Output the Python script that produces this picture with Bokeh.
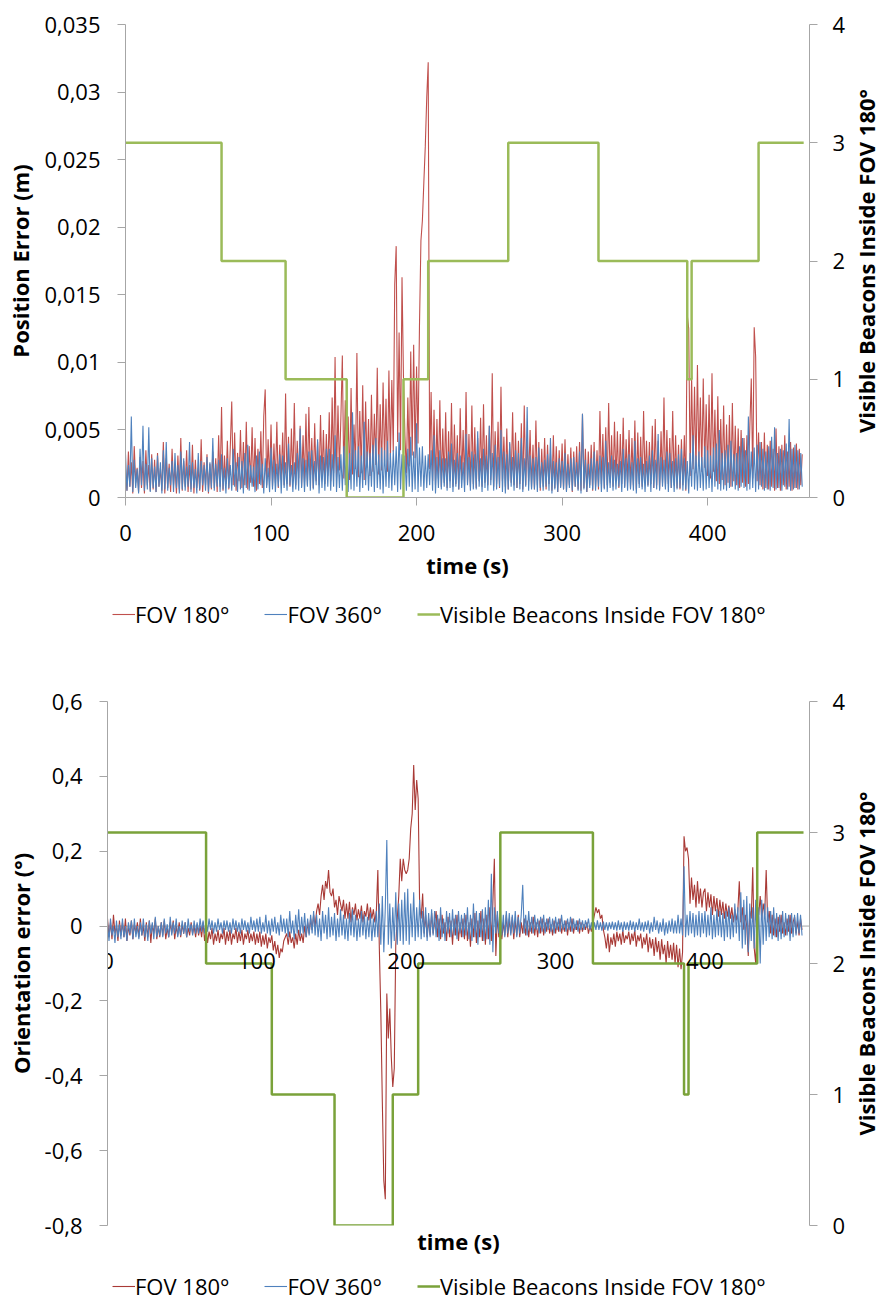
import numpy as np
from bokeh.plotting import figure
from bokeh.models import (Range1d, LinearAxis, FixedTicker, CustomJSTickFormatter,
                          Legend, LegendItem, Span)
from bokeh.layouts import row
from bokeh.embed import file_html
from bokeh.resources import INLINE

FONT = "Open Sans"

# ---------------- data (one sample per second) ----------------
sample_step_s = 1

pos_fov180_mm = [
    2.1, 0.5, 3.4, 0.8, 2.6, 0.3, 3.8, 1.1, 2.2, 0.4, 3.0, 0.7, 2.7, 0.3, 3.5, 0.9, 2.4, 0.5, 3.2, 0.6,
    2.8, 0.4, 3.3, 0.8, 2.2, 0.5, 4.1, 0.3, 2.9, 0.7, 2.5, 0.4, 3.6, 0.9, 2.3, 0.3, 3.1, 0.6, 4.4, 0.5,
    2.7, 0.8, 3.5, 0.4, 2.4, 0.6, 3.9, 0.3, 2.8, 0.7, 2.2, 0.5, 4.3, 0.4, 2.6, 0.9, 3.2, 0.3, 2.5, 0.6,
    3.4, 0.7, 2.9, 0.4, 4.6, 0.8, 6.7, 0.5, 3.1, 1.0, 4.2, 0.6, 3.7, 7.1, 0.9, 4.8, 0.5, 3.3, 1.2, 5.0,
    0.7, 4.1, 0.9, 5.6, 0.6, 3.8, 1.1, 5.2, 0.8, 4.4, 0.5, 3.6, 1.0, 4.9, 0.7, 6.0, 8.0, 0.9, 4.3, 1.2,
    5.4, 0.8, 4.0, 1.1, 5.6, 0.7, 3.9, 1.3, 4.8, 0.9, 7.7, 1.0, 4.5, 0.8, 5.1, 1.2, 7.0, 0.9, 4.2, 1.4,
    5.3, 0.8, 4.6, 1.1, 6.2, 0.9, 6.7, 1.3, 4.4, 0.7, 5.5, 1.2, 4.1, 0.9, 6.1, 1.4, 5.0, 1.0, 4.7, 1.6,
    6.3, 1.2, 7.4, 1.8, 10.4, 1.5, 6.8, 2.0, 5.9, 10.5, 1.4, 7.2, 1.9, 6.0, 1.3, 8.1, 1.7, 5.4, 2.1, 10.7,
    1.5, 6.4, 1.8, 8.3, 1.3, 7.1, 2.2, 5.8, 1.6, 7.6, 1.9, 6.2, 2.4, 9.6, 1.7, 6.9, 2.0, 8.5, 2.6, 7.3,
    1.9, 9.4, 2.8, 8.7, 3.4, 15.8, 18.6, 4.1, 12.2, 3.5, 16.3, 8.9, 4.6, 1.8, 7.4, 2.3, 10.8, 3.1, 11.3, 2.9,
    9.7, 4.0, 12.7, 19.0, 20.5, 23.3, 26.0, 29.6, 32.2, 2.1, 7.8, 1.2, 6.5, 0.9, 5.8, 1.4, 7.2, 0.8, 5.1, 1.1,
    6.3, 0.7, 4.9, 1.2, 7.0, 0.8, 5.4, 1.0, 4.6, 0.6, 6.6, 1.3, 5.0, 0.9, 7.8, 1.1, 4.7, 0.8, 6.8, 1.0,
    5.2, 0.7, 4.4, 1.2, 5.9, 0.8, 6.9, 1.1, 4.6, 0.9, 5.3, 1.3, 9.2, 0.8, 4.9, 1.0, 5.6, 0.7, 8.2, 1.2,
    4.5, 0.8, 5.1, 0.6, 4.0, 1.1, 6.3, 0.9, 4.8, 0.7, 4.2, 1.0, 5.5, 0.6, 6.8, 0.9, 4.3, 1.2, 5.0, 0.7,
    3.9, 0.6, 5.7, 0.9, 4.1, 0.5, 3.6, 0.8, 4.4, 0.6, 3.9, 1.0, 3.3, 0.5, 4.6, 0.7, 3.8, 0.4, 3.5, 0.8,
    4.0, 0.6, 4.3, 0.5, 3.2, 0.9, 3.7, 0.4, 3.4, 0.8, 3.8, 0.6, 4.1, 0.5, 6.2, 0.7, 3.6, 0.4, 3.4, 0.9,
    3.9, 0.5, 4.1, 0.8, 3.5, 0.6, 6.4, 1.0, 4.7, 0.7, 5.2, 0.9, 7.0, 1.1, 4.6, 0.8, 5.6, 1.2, 4.9, 0.7,
    4.7, 1.0, 5.9, 0.8, 4.3, 1.1, 5.0, 0.7, 4.4, 0.9, 5.7, 0.6, 4.8, 1.0, 4.5, 0.8, 6.4, 1.2, 4.2, 0.9,
    4.1, 1.0, 5.3, 0.7, 5.8, 0.9, 4.2, 0.6, 4.9, 1.1, 7.4, 0.8, 5.0, 1.0, 4.4, 0.7, 6.4, 0.9, 4.6, 0.7,
    3.9, 0.6, 4.3, 0.9, 4.6, 0.5, 13.5, 12.5, 1.6, 9.0, 2.1, 8.2, 1.8, 9.8, 2.5, 7.4, 1.9, 8.8, 2.2, 6.9,
    1.6, 7.6, 1.4, 9.2, 1.9, 6.5, 1.2, 7.5, 1.0, 5.8, 1.3, 6.8, 0.9, 5.4, 1.1, 6.1, 0.8, 7.0, 1.2, 5.3,
    0.9, 5.1, 0.7, 5.0, 1.1, 4.4, 0.8, 4.6, 1.0, 5.2, 8.8, 1.4, 12.6, 10.4, 1.2, 4.8, 0.9, 4.1, 0.6, 4.8,
    0.7, 3.9, 0.6, 4.2, 0.8, 3.6, 0.5, 5.1, 0.7, 3.8, 0.5, 3.9, 0.9, 4.6, 0.6, 3.4, 0.8, 4.1, 0.5, 3.7,
    0.7, 4.0, 0.6, 3.6, 0.9, 3.2,
]

pos_fov360_mm = [
    3.2, 0.5, 2.4, 0.8, 6.0, 0.4, 2.8, 0.7, 2.1, 0.3, 3.6, 0.9, 5.3, 0.5, 2.5, 0.6, 5.2, 0.4, 2.9, 0.7,
    2.3, 0.4, 3.1, 0.8, 2.6, 0.3, 3.5, 0.6, 4.1, 0.5, 2.2, 0.9, 2.7, 0.4, 3.3, 0.7, 2.4, 0.3, 3.4, 0.6,
    2.9, 0.5, 2.3, 0.8, 4.1, 0.4, 2.6, 0.7, 2.1, 0.3, 3.3, 0.6, 2.7, 0.9, 2.4, 0.5, 3.0, 0.4, 2.6, 0.7,
    4.4, 0.5, 2.5, 0.8, 2.8, 0.4, 3.2, 0.6, 2.2, 0.3, 2.9, 0.7, 2.4, 0.5, 3.6, 0.8, 2.6, 0.4, 3.0, 0.6,
    2.7, 0.3, 3.3, 0.7, 3.9, 0.5, 2.4, 0.8, 2.3, 0.4, 3.1, 0.6, 3.4, 0.9, 2.5, 0.3, 2.9, 0.7, 2.2, 0.4,
    3.7, 0.6, 2.8, 0.4, 2.5, 0.8, 3.2, 0.3, 3.1, 0.7, 2.6, 0.5, 4.0, 0.9, 2.4, 0.4, 2.6, 0.6, 3.3, 0.5,
    5.1, 0.7, 2.9, 0.4, 2.8, 0.8, 3.4, 0.5, 3.5, 0.6, 2.7, 0.9, 4.3, 0.3, 3.1, 0.7, 3.0, 0.5, 3.6, 0.8,
    3.6, 0.5, 3.2, 0.8, 4.6, 0.4, 3.0, 0.7, 3.2, 0.5, 3.8, 0.9, 4.9, 0.4, 3.3, 0.6, 6.3, 0.5, 3.5, 0.8,
    3.8, 0.4, 3.1, 0.7, 5.6, 0.9, 3.4, 0.5, 3.3, 0.8, 3.9, 0.4, 4.4, 0.7, 3.2, 0.6, 3.7, 0.3, 3.5, 0.8,
    4.2, 0.7, 3.3, 0.5, 3.5, 0.9, 3.8, 0.4, 4.8, 0.6, 3.2, 0.9, 3.1, 0.5, 3.6, 0.8, 4.5, 0.4, 3.4, 0.6,
    5.5, 0.4, 3.7, 0.8, 3.8, 0.5, 3.1, 0.7, 3.2, 0.9, 3.5, 0.5, 4.6, 0.3, 3.0, 0.7, 3.5, 0.6, 2.9, 0.8,
    2.9, 0.5, 3.4, 0.7, 4.0, 0.4, 2.8, 0.8, 3.3, 0.6, 3.1, 0.7, 2.6, 0.4, 4.7, 0.9, 3.0, 0.5, 3.4, 0.6,
    3.2, 0.6, 4.9, 0.8, 2.9, 0.4, 3.6, 0.7, 3.1, 0.5, 5.3, 0.9, 3.3, 0.5, 3.9, 0.6, 3.0, 0.8, 5.0, 0.4,
    3.4, 0.3, 3.2, 0.6, 4.1, 0.8, 3.0, 0.5, 3.5, 0.7, 3.3, 0.6, 4.4, 0.4, 2.9, 0.8, 6.7, 0.5, 3.1, 0.6,
    2.9, 0.6, 3.0, 0.4, 3.7, 0.7, 2.6, 0.5, 2.8, 0.8, 3.2, 0.5, 4.4, 0.3, 2.7, 0.6, 2.6, 0.4, 2.9, 0.7,
    2.7, 0.6, 3.3, 0.4, 2.5, 0.7, 2.9, 0.5, 3.0, 0.8, 2.6, 0.5, 3.4, 0.3, 6.2, 0.6, 2.8, 0.4, 2.5, 0.7,
    2.9, 0.6, 3.4, 0.5, 2.7, 0.8, 3.1, 0.4, 3.0, 0.6, 4.2, 0.4, 2.6, 0.7, 3.1, 0.5, 2.8, 0.6, 2.5, 0.8,
    2.7, 0.4, 3.6, 0.7, 2.9, 0.5, 3.2, 0.6, 2.6, 0.5, 4.2, 0.3, 2.9, 0.7, 3.0, 0.6, 2.5, 0.4, 2.7, 0.8,
    3.1, 0.4, 3.5, 0.7, 2.8, 0.6, 4.7, 0.5, 3.0, 0.8, 2.8, 0.6, 3.4, 0.4, 3.3, 0.7, 2.7, 0.4, 2.9, 0.6,
    3.2, 0.7, 3.6, 0.5, 2.9, 0.6, 2.7, 0.3, 3.3, 0.8, 4.6, 0.6, 3.1, 0.5, 3.4, 0.7, 3.0, 0.5, 3.8, 0.6,
    3.5, 0.7, 3.1, 0.4, 3.7, 0.8, 4.0, 0.6, 5.0, 0.5, 3.3, 0.6, 3.5, 0.5, 3.9, 0.7, 4.2, 0.8, 3.2, 0.6,
    3.3, 0.5, 3.8, 0.8, 4.4, 0.7, 3.5, 0.5, 6.0, 0.6, 3.4, 0.7, 3.7, 0.4, 3.9, 0.6, 4.1, 0.8, 3.6, 0.5,
    3.4, 0.6, 3.8, 0.5, 4.5, 0.7, 5.2, 0.6, 3.3, 0.7, 3.6, 0.5, 3.5, 0.8, 4.0, 0.6, 5.8, 0.5, 3.6, 0.6,
    3.9, 0.7, 3.5, 0.6, 3.3, 0.8,
]

ori_fov180_deg = [
    0.02, -0.03, 0.01, -0.035, 0.03, -0.02, 0.0, -0.04, 0.015, -0.025, 0.01, -0.03, 0.02, -0.04, 0.0, -0.025, 0.015, -0.035, 0.005, -0.02,
    0.01, -0.03, 0.02, -0.025, 0.0, -0.04, 0.01, -0.03, 0.015, -0.045, 0.005, -0.02, 0.02, -0.035, 0.0, -0.03, 0.01, -0.025, 0.015, -0.035,
    -0.005, -0.03, 0.01, -0.02, 0.015, -0.035, 0.0, -0.025, 0.01, -0.03, 0.005, -0.02, 0.01, -0.03, -0.005, -0.025, 0.01, -0.02, 0.0, -0.03,
    0.005, -0.025, 0.0, -0.03, 0.01, -0.04, -0.01, -0.045, -0.015, -0.035, -0.005, -0.05, -0.02, -0.04, -0.01, -0.045, -0.02, -0.035, -0.005, -0.05,
    -0.015, -0.04, -0.01, -0.05, -0.02, -0.035, -0.005, -0.045, -0.015, -0.04, -0.01, -0.05, -0.02, -0.035, -0.01, -0.045, -0.02, -0.04, -0.015, -0.05,
    -0.02, -0.045, -0.015, -0.055, -0.025, -0.05, -0.02, -0.06, -0.03, -0.045, -0.025, -0.065, -0.04, -0.075, -0.05, -0.085, -0.06, -0.07, -0.04, -0.03,
    -0.02, -0.05, -0.015, -0.045, -0.03, -0.06, -0.02, -0.05, -0.01, -0.04, -0.02, -0.045, 0.0, -0.03, 0.01, -0.02, 0.02, -0.01, 0.03, 0.0,
    0.04, 0.06, 0.03, 0.08, 0.11, 0.07, 0.12, 0.10, 0.15, 0.09, 0.08, 0.10, 0.05, 0.07, 0.03, 0.08, 0.06, 0.04, 0.07, 0.02,
    0.06, 0.02, 0.065, 0.01, 0.05, 0.03, 0.06, 0.015, 0.045, 0.02, 0.055, 0.01, 0.04, 0.025, 0.06, 0.015, 0.05, 0.02, 0.045, 0.01,
    0.04, 0.15, -0.06, -0.23, -0.47, -0.68, -0.73, -0.18, -0.30, -0.22, -0.35, -0.43, -0.38, -0.05, 0.02, 0.08, 0.18, 0.12, 0.18, 0.15,
    0.14, 0.15, 0.18, 0.26, 0.30, 0.43, 0.31, 0.39, 0.34, 0.05, 0.02, 0.087, -0.02, 0.03, -0.03, 0.02, -0.025, 0.035, -0.02, 0.01,
    0.04, -0.03, 0.02, -0.035, 0.03, -0.02, 0.01, -0.04, 0.025, -0.03, 0.015, -0.05, 0.02, -0.025, 0.03, -0.04, 0.01, -0.03, 0.02, -0.035,
    0.03, -0.04, 0.01, -0.055, 0.02, -0.03, 0.035, -0.045, 0.015, -0.03, 0.04, -0.04, 0.02, -0.05, 0.03, -0.035, 0.05, -0.04, 0.06, 0.18,
    -0.08, 0.03, -0.03, 0.02, -0.035, 0.01, -0.025, 0.03, -0.03, 0.02, -0.02, 0.025, -0.035, 0.015, -0.025, 0.03, -0.03, 0.01, -0.02, 0.02,
    -0.025, 0.015, -0.03, 0.01, -0.02, 0.025, -0.025, 0.01, -0.03, 0.015, -0.02, 0.02, -0.025, 0.01, -0.015, 0.02, -0.02, 0.005, -0.025, 0.015,
    -0.02, 0.01, -0.015, 0.02, -0.02, 0.005, -0.015, 0.015, -0.025, 0.01, -0.015, 0.02, -0.02, 0.005, -0.01, 0.015, -0.02, 0.01, -0.015, 0.005,
    -0.01, 0.01, -0.02, 0.0, -0.015, 0.01, 0.03, 0.05, 0.035, 0.045, 0.02, 0.03, -0.01, -0.03, -0.06, -0.02, -0.07, -0.03, -0.05, -0.02,
    -0.055, -0.015, -0.04, -0.02, -0.05, -0.01, -0.045, -0.025, -0.035, -0.015, -0.05, -0.02, -0.04, -0.01, -0.055, -0.025, -0.04, -0.02, -0.06, -0.03,
    -0.05, -0.02, -0.07, -0.03, -0.06, -0.035, -0.08, -0.03, -0.07, -0.04, -0.09, -0.035, -0.075, -0.05, -0.10, -0.04, -0.085, -0.05, -0.09, -0.045,
    -0.10, -0.05, -0.11, -0.06, -0.115, -0.07, 0.24, 0.20, 0.21, 0.18, 0.06, 0.13, 0.07, 0.11, 0.05, 0.12, 0.06, 0.10, 0.05, 0.09,
    0.10, 0.04, 0.09, 0.05, 0.085, 0.03, 0.08, 0.04, 0.075, 0.025, 0.07, 0.03, 0.065, 0.02, 0.06, 0.025, 0.055, 0.02, 0.05, 0.01,
    0.045, 0.015, 0.04, 0.12, 0.01, 0.05, -0.01, 0.03, 0.0, -0.08, 0.04, 0.02, 0.157, -0.06, -0.10, 0.05, 0.03, 0.08, 0.02, 0.06,
    0.03, 0.15, 0.01, 0.04, -0.02, 0.03, -0.025, 0.02, -0.03, 0.025, -0.015, 0.03, -0.02, 0.01, -0.025, 0.02, -0.015, 0.03, -0.02, 0.01,
    0.025, -0.02, 0.015, -0.025, 0.02, -0.01,
]

ori_fov360_deg = [
    0.01, -0.04, 0.02, -0.025, 0.0, -0.045, 0.015, -0.03, 0.005, -0.035, 0.02, -0.03, 0.0, -0.04, 0.01, -0.02, 0.015, -0.035, 0.02, -0.03,
    0.0, -0.035, 0.01, -0.025, 0.02, -0.03, 0.005, -0.04, 0.015, -0.02, 0.01, -0.035, 0.025, -0.03, 0.0, -0.025, 0.01, -0.03, 0.02, -0.02,
    0.005, -0.03, 0.025, -0.025, 0.01, -0.02, 0.02, -0.03, 0.0, -0.025, 0.015, -0.02, 0.01, -0.03, 0.02, -0.015, 0.005, -0.025, 0.015, -0.02,
    0.01, -0.02, 0.02, -0.015, 0.015, -0.02, 0.01, -0.015, 0.02, -0.01, 0.015, -0.02, 0.01, -0.015, 0.02, -0.01, 0.01, -0.02, 0.015, -0.01,
    0.015, -0.015, 0.01, -0.02, 0.02, -0.01, 0.015, -0.015, 0.01, -0.02, 0.02, -0.01, 0.015, -0.015, 0.01, -0.02, 0.025, -0.01, 0.015, -0.015,
    0.02, -0.015, 0.025, -0.02, 0.01, -0.015, 0.03, -0.02, 0.015, -0.025, 0.02, -0.015, 0.025, -0.02, 0.01, -0.025, 0.03, -0.015, 0.02, -0.02,
    0.02, -0.03, 0.04, -0.02, 0.015, -0.035, 0.03, -0.02, 0.045, -0.025, 0.025, -0.02, 0.035, -0.03, 0.02, -0.025, 0.03, -0.02, 0.04, -0.025,
    0.03, -0.03, 0.02, -0.04, 0.04, -0.02, 0.03, -0.035, 0.05, -0.03, 0.025, -0.025, 0.035, -0.04, 0.02, -0.03, 0.045, -0.025, 0.03, -0.035,
    0.02, -0.04, 0.035, -0.025, 0.045, -0.03, 0.03, -0.04, 0.02, -0.03, 0.04, -0.025, 0.03, -0.035, 0.025, -0.03, 0.035, -0.04, 0.02, -0.03,
    0.04, -0.03, 0.06, -0.05, 0.08, -0.07, 0.05, 0.23, -0.05, 0.06, -0.06, 0.05, -0.04, 0.09, -0.05, 0.06, -0.04, 0.07, -0.05, 0.09,
    -0.04, 0.10, -0.05, 0.06, -0.03, 0.09, -0.04, 0.05, -0.03, 0.07, -0.035, 0.04, -0.03, 0.05, -0.04, 0.035, -0.03, 0.045, -0.025, 0.04,
    -0.03, 0.03, -0.04, 0.05, -0.03, 0.02, -0.04, 0.04, -0.02, 0.035, -0.03, 0.045, -0.025, 0.03, -0.035, 0.04, -0.02, 0.03, -0.03, 0.035,
    -0.025, 0.05, -0.035, 0.03, -0.04, 0.06, -0.03, 0.04, -0.05, 0.035, -0.03, 0.045, -0.04, 0.05, -0.035, 0.07, -0.05, 0.14, -0.07, 0.05,
    -0.02, 0.04, -0.02, 0.05, -0.025, 0.03, -0.03, 0.04, -0.02, 0.035, -0.025, 0.03, -0.02, 0.04, -0.03, 0.025, -0.02, 0.03, 0.11, -0.02,
    0.03, -0.025, 0.04, -0.015, 0.025, -0.02, 0.03, -0.01, 0.02, -0.02, 0.025, -0.015, 0.03, -0.02, 0.02, -0.01, 0.025, -0.015, 0.02, -0.02,
    0.025, -0.01, 0.02, -0.015, 0.03, -0.01, 0.015, -0.015, 0.02, -0.01, 0.025, -0.015, 0.02, -0.01, 0.015, -0.015, 0.02, -0.01, 0.015, -0.01,
    0.015, -0.005, 0.02, -0.01, 0.01, -0.015, 0.01, -0.01, 0.015, -0.01, 0.01, -0.012, 0.012, -0.01, 0.01, -0.012, 0.01, -0.008, 0.012, -0.01,
    0.01, -0.012, 0.015, -0.01, 0.01, -0.015, 0.012, -0.01, 0.01, -0.012, 0.015, -0.01, 0.012, -0.015, 0.01, -0.01, 0.02, -0.012, 0.01, -0.015,
    0.012, -0.01, 0.015, -0.02, 0.01, -0.015, 0.025, -0.01, 0.015, -0.02, 0.01, -0.015, 0.02, -0.025, 0.01, -0.02, 0.015, -0.015, 0.02, -0.02,
    0.015, -0.02, 0.03, -0.02, 0.02, -0.025, 0.16, -0.03, 0.03, -0.025, 0.04, -0.02, 0.035, -0.03, 0.03, -0.025, 0.04, -0.03, 0.035, -0.02,
    0.04, -0.03, 0.03, -0.025, 0.05, -0.035, 0.03, -0.03, 0.045, -0.025, 0.04, -0.03, 0.035, -0.04, 0.04, -0.03, 0.05, -0.035, 0.03, -0.03,
    0.06, -0.02, 0.05, -0.04, 0.09, -0.06, 0.07, -0.05, 0.08, -0.07, 0.06, -0.04, 0.05, -0.06, 0.07, -0.08, 0.05, -0.10, 0.07, -0.05,
    0.06, -0.04, 0.05, -0.03, 0.04, -0.035, 0.05, -0.03, 0.035, -0.04, 0.03, -0.035, 0.04, -0.03, 0.035, -0.025, 0.03, -0.04, 0.035, -0.03,
    0.03, -0.025, 0.035, -0.02, 0.03, -0.025,
]

beacon_times = [0, 66, 110, 152, 191, 208, 263, 325, 386, 389, 435, 466]
beacon_counts = [3, 2, 1, 0, 1, 2, 3, 2, 1, 2, 3, 3]

time_ticks = [0, 100, 200, 300, 400]
pos_ticks = [0, 0.005, 0.01, 0.015, 0.02, 0.025, 0.03, 0.035]
ori_ticks = [-0.8, -0.6, -0.4, -0.2, 0, 0.2, 0.4, 0.6]
beacon_ticks = [0, 1, 2, 3, 4]

series_labels = ["FOV 180°", "FOV 360°", "Visible Beacons Inside FOV 180°"]
right_title = "Visible Beacons Inside FOV 180°"

# ---------------- helpers ----------------
GRAY = "#A6A6A6"
comma_fmt = "return String(parseFloat(tick.toFixed(4))).replace('.', ',');"
MAIN_W = 848
TITLE_W = 32


def style_axis(ax):
    ax.axis_line_color = GRAY
    ax.major_tick_line_color = GRAY
    ax.minor_tick_line_color = None
    ax.major_tick_out = 8
    ax.major_tick_in = 0
    ax.major_label_text_font = FONT
    ax.major_label_text_font_size = "22px"
    ax.major_label_text_color = "black"
    ax.axis_label_text_font = FONT
    ax.axis_label_text_font_size = "22px"
    ax.axis_label_text_font_style = "bold"
    ax.axis_label_text_color = "black"


def times_for(series):
    return np.arange(len(series)) * sample_step_s


def title_strip(height, top, bottom):
    """Narrow strip whose (empty) left axis carries the secondary-axis title,
    reading bottom-to-top and centred on the neighbouring plot frame."""
    f = figure(width=TITLE_W, height=height, x_range=Range1d(0, 1), y_range=Range1d(0, 4),
               output_backend="svg", toolbar_location=None,
               min_border_left=0, min_border_right=0, min_border_top=top, min_border_bottom=bottom)
    f.xaxis.visible = False
    f.grid.visible = False
    f.outline_line_color = None
    ax = f.yaxis[0]
    style_axis(ax)
    ax.ticker = FixedTicker(ticks=[])
    ax.axis_line_color = None
    ax.major_tick_out = 0
    ax.major_label_standoff = 0
    ax.axis_label = right_title
    ax.axis_label_standoff = 0
    return f


def legend_strip(height, colors, loc):
    """A frame-only strip that carries the horizontal legend row."""
    f = figure(width=880, height=height, x_range=Range1d(0, 1), y_range=Range1d(0, 1),
               output_backend="svg", toolbar_location=None, min_border=0)
    f.axis.visible = False
    f.grid.visible = False
    f.outline_line_color = None
    nan = float("nan")
    rs = [f.line([nan, nan], [nan, nan], line_color=colors[0], line_width=1.1),
          f.line([nan, nan], [nan, nan], line_color=colors[1], line_width=1.1),
          f.line([nan, nan], [nan, nan], line_color=colors[2], line_width=2.5)]
    items = [LegendItem(label=l, renderers=[r]) for l, r in zip(series_labels, rs)]
    f.add_layout(Legend(items=items, location=loc, orientation="horizontal",
                        glyph_width=23, glyph_height=22, label_standoff=0, spacing=35,
                        padding=0, margin=0, border_line_color=None, background_fill_alpha=0,
                        label_text_font=FONT, label_text_font_size="22px",
                        label_text_color="black"))
    return f


# ---------------- top chart ----------------
p1 = figure(width=MAIN_W, height=595, x_range=Range1d(0, 470), y_range=Range1d(0, 0.035),
            output_backend="svg", toolbar_location=None,
            min_border_left=125, min_border_right=MAIN_W - 810, min_border_top=24, min_border_bottom=98)
p1.outline_line_color = None
p1.grid.visible = False
p1.extra_y_ranges = {"beacons": Range1d(0, 4)}

pos180_m = np.array(pos_fov180_mm) / 1000.0
pos360_m = np.array(pos_fov360_mm) / 1000.0
p1.line(times_for(pos_fov180_mm), pos180_m, line_color="#C0504D", line_width=1.1)
p1.line(times_for(pos_fov360_mm), pos360_m, line_color="#4F81BD", line_width=1.1)
p1.step(beacon_times, beacon_counts, mode="after", y_range_name="beacons",
        line_color="#9BBB59", line_width=2.5)

xa = p1.xaxis[0]
style_axis(xa)
xa.ticker = FixedTicker(ticks=time_ticks)
xa.axis_label = "time (s)"
xa.major_label_standoff = 19
xa.axis_label_standoff = 6

ya = p1.yaxis[0]
style_axis(ya)
ya.ticker = FixedTicker(ticks=pos_ticks)
ya.formatter = CustomJSTickFormatter(code=comma_fmt)
ya.axis_label = "Position Error (m)"
ya.major_label_standoff = 17
ya.axis_label_standoff = 6

ra = LinearAxis(y_range_name="beacons", ticker=FixedTicker(ticks=beacon_ticks))
style_axis(ra)
ra.major_label_standoff = 15
p1.add_layout(ra, "right")

top_row = row(p1, title_strip(595, 24, 98), spacing=0)
leg1 = legend_strip(50, ["#C0504D", "#4F81BD", "#9BBB59"], (112, 16))

# ---------------- bottom chart ----------------
p2 = figure(width=MAIN_W, height=617, x_range=Range1d(0, 470), y_range=Range1d(-0.8, 0.6),
            output_backend="svg", toolbar_location=None,
            min_border_left=107, min_border_right=MAIN_W - 810, min_border_top=56, min_border_bottom=37)
p2.outline_line_color = None
p2.grid.visible = False
p2.extra_y_ranges = {"beacons": Range1d(0, 4)}

p2.add_layout(Span(location=0, dimension="width", line_color=GRAY, line_width=1, level="underlay"))

p2.line(times_for(ori_fov180_deg), ori_fov180_deg, line_color="#A93A36", line_width=1.1)
p2.line(times_for(ori_fov360_deg), ori_fov360_deg, line_color="#4F81BD", line_width=1.1)
p2.step(beacon_times, beacon_counts, mode="after", y_range_name="beacons",
        line_color="#7AA23A", line_width=2.5)

xb = p2.xaxis[0]
style_axis(xb)
xb.ticker = FixedTicker(ticks=time_ticks)
xb.fixed_location = 0
xb.axis_line_color = None
xb.major_tick_line_color = None
xb.major_tick_out = 0
xb.major_label_standoff = 27

xt = LinearAxis(ticker=FixedTicker(ticks=[]), axis_label="time (s)")
style_axis(xt)
xt.axis_line_color = None
xt.major_tick_line_color = None
xt.major_tick_out = 0
xt.major_label_standoff = 0
xt.axis_label_standoff = 0
p2.add_layout(xt, "below")

yb = p2.yaxis[0]
style_axis(yb)
yb.ticker = FixedTicker(ticks=ori_ticks)
yb.formatter = CustomJSTickFormatter(code=comma_fmt)
yb.axis_label = "Orientation error (°)"
yb.major_label_standoff = 17
yb.axis_label_standoff = 6

rb = LinearAxis(y_range_name="beacons", ticker=FixedTicker(ticks=beacon_ticks))
style_axis(rb)
rb.major_label_standoff = 15
p2.add_layout(rb, "right")

bottom_row = row(p2, title_strip(617, 56, 37), spacing=0)
leg2 = legend_strip(39, ["#A93A36", "#4F81BD", "#7AA23A"], (112, 0))

open("out.html", "w").write(file_html([top_row, leg1, bottom_row, leg2], INLINE))
